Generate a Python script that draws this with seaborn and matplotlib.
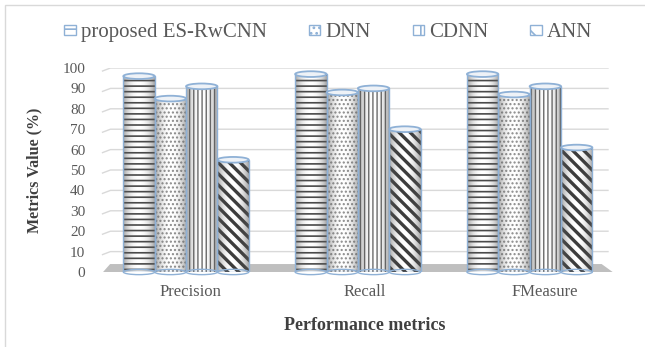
import numpy as np
import pandas as pd
import seaborn as sns
import matplotlib.pyplot as plt
import matplotlib.transforms as mtransforms
from matplotlib.patches import Patch, Rectangle, Ellipse, Polygon

metrics = ["Precision", "Recall", "FMeasure"]
models = ["proposed ES-RwCNN", "DNN", "CDNN", "ANN"]
es_rwcnn = [96, 97, 97]
dnn = [85, 88, 87]
cdnn = [91, 90, 91]
ann = [55, 70, 61]
y_ticks = list(range(0, 101, 10))

hatches = ["---", "....", "||||", "\\\\\\"]
hatch_widths = [1.2, 1.0, 1.0, 2.4]
hatch_colors = ["#4a4a4a", "#8a8a8a", "#6a6a6a", "#3c3c3c"]
outline = "#8fb1d6"
text_gray = "#595959"

sns.set_theme(style="white")
plt.rcParams["font.family"] = ["Liberation Serif", "DejaVu Serif"]
plt.rcParams["hatch.linewidth"] = 1.2

df = pd.DataFrame({
    "metric": np.repeat(metrics, len(models)),
    "model": models * len(metrics),
    "value": np.ravel(np.column_stack([es_rwcnn, dnn, cdnn, ann])),
})

fig = plt.figure(figsize=(6.45, 3.47), dpi=100)
ax = fig.add_axes([95 / 645, 1 - 272 / 347, 524 / 645, 204 / 347])

sns.barplot(data=df, x="metric", y="value", hue="model", order=metrics,
            hue_order=models, palette=["white"] * 4, width=0.73,
            linewidth=0, legend=False, ax=ax, zorder=3)

xmin, xmax = -0.53, 2.52

# back-wall gridlines with a short slanted return at the left
for v in y_ticks[1:]:
    ax.plot([-0.49, -0.44, xmax - 0.06], [v - 1.6, v, v], color="#d9d9d9",
            lw=1.0, zorder=1, solid_capstyle="butt")

# floor
ax.add_patch(Polygon([[-0.483, 0], [2.483, 0], [2.419, 3.9], [-0.442, 3.9]],
                     closed=True, facecolor="#bfbfbf", edgecolor="none",
                     zorder=2, clip_on=False))

# cylinder shading profile across each bar
n = 64
t = np.linspace(-1, 1, n)
shade = np.zeros((1, n, 4))
shade[..., :3] = 0.35
shade[0, :, 3] = np.clip(0.55 * np.abs(t) ** 2.2, 0, 1)

for container, hatch, hc, hw in zip(ax.containers, hatches, hatch_colors,
                                    hatch_widths):
    for bar in container:
        bar.set_hatch(hatch)
        bar.set_edgecolor(hc)
        bar.set_linewidth(0)
        if hasattr(bar, "set_hatch_linewidth"):
            bar.set_hatch_linewidth(hw)
        x0, w, h = bar.get_x(), bar.get_width(), bar.get_height()
        img = ax.imshow(shade, extent=(x0, x0 + w, 0, h), aspect="auto",
                        zorder=4, interpolation="bilinear")
        img.set_clip_path(bar)
        ax.add_patch(Rectangle((x0, 0), w, h, fill=False, edgecolor=outline,
                               lw=1.0, zorder=5))
        ax.add_patch(Ellipse((x0 + w / 2, h), w, 2.8, facecolor="#eef2f7",
                             edgecolor=outline, lw=1.3, zorder=6))
        ax.add_patch(Ellipse((x0 + w / 2, 0), w, 2.6, facecolor="none",
                             edgecolor=outline, lw=1.0, zorder=5,
                             clip_on=False))

ax.set_xlim(xmin, xmax)
ax.set_ylim(0, 100)
ax.set_yticks(y_ticks)
ax.tick_params(axis="y", length=0, pad=7, labelsize=11, labelcolor=text_gray)
ax.tick_params(axis="x", length=0, pad=9, labelsize=12, labelcolor=text_gray)
for s in ax.spines.values():
    s.set_visible(False)
ax.set_facecolor("none")

# category labels sit on the front edge of the floor, spread slightly wider
for lbl, dx in zip(ax.get_xticklabels(), [3, 5, 11]):
    lbl.set_transform(lbl.get_transform() +
                      mtransforms.ScaledTranslation(dx / 72, 0,
                                                    fig.dpi_scale_trans))

ax.set_xlabel("Performance metrics", fontsize=13, fontweight="bold",
              color="#404040")
ax.xaxis.set_label_coords(0.515, -0.22)
ax.set_ylabel("Metrics Value (%)", fontsize=11.5, fontweight="bold",
              color="#404040")
ax.yaxis.set_label_coords(-0.101, 0.5)

handles = [Patch(facecolor="white", edgecolor=c, hatch=h, lw=0)
           for h, c in zip(["--", "...", "||", "\\\\"], hatch_colors)]
leg = fig.legend(handles, models, loc="center", bbox_to_anchor=(0.509, 0.905),
                 ncol=4, frameon=False, fontsize=15, handlelength=0.55,
                 handleheight=0.35, handletextpad=0.25, columnspacing=2.0)
for txt in leg.get_texts():
    txt.set_color(text_gray)
for hnd in leg.legend_handles:
    hnd.set_edgecolor(outline)
    hnd.set_linewidth(1.0)

fig.add_artist(Rectangle((5 / 645, -0.05), 1.0, 1.05 - 5 / 347,
                         transform=fig.transFigure, fill=False,
                         edgecolor="#d9d9d9", lw=1.0))

fig.savefig("out.png", dpi=100)
